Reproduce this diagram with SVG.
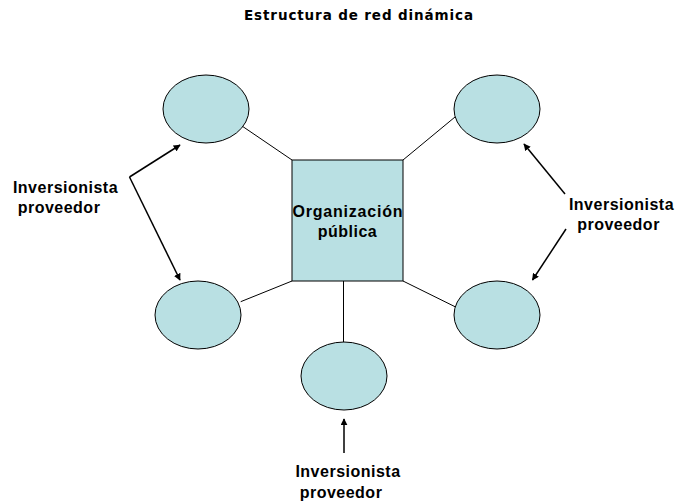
<svg xmlns="http://www.w3.org/2000/svg" width="675" height="504" viewBox="0 0 675 504">
<style>
.node{fill:#b9e0e3;stroke:#000;stroke-width:1}
.ln{stroke:#000;stroke-width:1;fill:none}
.ar{stroke:#000;stroke-width:1.5;fill:none;marker-end:url(#ah)}
text{font-family:"Liberation Sans",Arial,sans-serif;font-weight:bold;fill:#000;text-anchor:middle}
.lbl{font-size:16px;letter-spacing:0.5px}
.title{font-family:"DejaVu Sans","Liberation Sans",sans-serif;font-size:13.5px}
</style>
<defs>
<marker id="ah" viewBox="0 0 10 10" refX="9" refY="5" markerWidth="7" markerHeight="7" markerUnits="userSpaceOnUse" orient="auto">
<path d="M0,0 L10,5 L0,10 z" fill="#000"/>
</marker>
</defs>
<rect width="675" height="504" fill="#fff"/>
<text class="title" x="358.5" y="19.5" textLength="229" lengthAdjust="spacing">Estructura de red dinámica</text>
<g id="connectors">
<line class="ln" x1="242" y1="126" x2="292" y2="160"/>
<line class="ln" x1="455" y1="117" x2="403" y2="160"/>
<line class="ln" x1="240.7" y1="301.7" x2="292" y2="281"/>
<line class="ln" x1="403" y1="281" x2="455" y2="306.7"/>
<line class="ln" x1="343.5" y1="281" x2="343.5" y2="342"/>
<line class="ar" x1="129.5" y1="177" x2="180" y2="145"/>
<line class="ar" x1="129.5" y1="177" x2="180" y2="280"/>
<line class="ar" x1="565" y1="194" x2="524" y2="144"/>
<line class="ar" x1="566" y1="229" x2="532.5" y2="280"/>
<line class="ar" x1="344" y1="453" x2="344" y2="419"/>
</g>
<g id="org">
<rect class="node" x="292" y="160" width="111" height="121"/>
<text x="347.5" y="217" font-size="16" textLength="110" lengthAdjust="spacing">Organización</text>
<text x="347.5" y="237" font-size="16" letter-spacing="0.5">pública</text>
</g>
<g id="n-top-left"><ellipse class="node" cx="206" cy="109" rx="43" ry="34"/></g>
<g id="n-top-right"><ellipse class="node" cx="497" cy="109" rx="43" ry="34"/></g>
<g id="n-bottom-left"><ellipse class="node" cx="198" cy="315" rx="43" ry="34"/></g>
<g id="n-bottom-right"><ellipse class="node" cx="497" cy="315" rx="43" ry="34"/></g>
<g id="n-bottom"><ellipse class="node" cx="344" cy="376" rx="43" ry="34"/></g>
<g id="lbl-left">
<text class="lbl" x="65.5" y="193">Inversionista</text>
<text class="lbl" x="59" y="213">proveedor</text>
</g>
<g id="lbl-right">
<text class="lbl" x="621.5" y="210">Inversionista</text>
<text class="lbl" x="618.5" y="230">proveedor</text>
</g>
<g id="lbl-bottom">
<text class="lbl" x="348" y="477">Inversionista</text>
<text class="lbl" x="341" y="498">proveedor</text>
</g>
</svg>
